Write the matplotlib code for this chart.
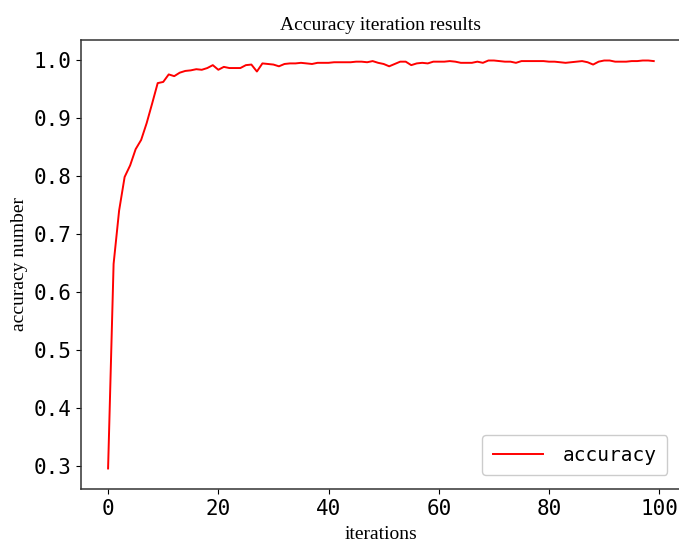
import matplotlib
matplotlib.use("Agg")
import matplotlib.pyplot as plt
import numpy as np

# accuracy per iteration
iterations = np.arange(100)
accuracy = [
    0.295, 0.648, 0.740, 0.798, 0.818, 0.846, 0.862, 0.891, 0.925, 0.960,
    0.962, 0.975, 0.972, 0.978, 0.981, 0.982, 0.984, 0.983, 0.986, 0.991,
    0.983, 0.988, 0.986, 0.986, 0.986, 0.991, 0.992, 0.980, 0.994, 0.993,
    0.992, 0.989, 0.993, 0.994, 0.994, 0.995, 0.994, 0.993, 0.995, 0.995,
    0.995, 0.996, 0.996, 0.996, 0.996, 0.997, 0.997, 0.996, 0.998, 0.995,
    0.993, 0.989, 0.993, 0.997, 0.997, 0.991, 0.994, 0.995, 0.994, 0.997,
    0.997, 0.997, 0.998, 0.997, 0.995, 0.995, 0.995, 0.997, 0.995, 0.999,
    0.999, 0.998, 0.997, 0.997, 0.995, 0.998, 0.998, 0.998, 0.998, 0.998,
    0.997, 0.997, 0.996, 0.995, 0.996, 0.997, 0.998, 0.996, 0.992, 0.997,
    0.999, 0.999, 0.997, 0.997, 0.997, 0.998, 0.998, 0.999, 0.999, 0.998,
]
x_ticks = [0, 20, 40, 60, 80, 100]
y_ticks = [0.3, 0.4, 0.5, 0.6, 0.7, 0.8, 0.9, 1.0]

serif = "Liberation Serif"
mono = "DejaVu Sans Mono"

fig = plt.figure(figsize=(6.79, 5.42), dpi=100)
ax = fig.add_axes([0.119, 0.098, 0.884, 0.828])

ax.plot(iterations, accuracy, color="red", linewidth=1.4, label="accuracy")

ax.set_xticks(x_ticks)
ax.set_yticks(y_ticks)
ax.set_xticklabels([str(t) for t in x_ticks], fontfamily=mono, fontsize=15)
ax.set_yticklabels(["%.1f" % t for t in y_ticks], fontfamily=mono, fontsize=15)

ax.set_title("Accuracy iteration results", fontfamily=serif, fontsize=14, pad=7)
ax.set_xlabel("iterations", fontfamily=serif, fontsize=14, labelpad=5)
ax.set_ylabel("accuracy number", fontfamily=serif, fontsize=14, labelpad=4)

for s in ax.spines.values():
    s.set_color("#333333")
    s.set_linewidth(1.1)

leg = ax.legend(loc="lower right", prop={"family": mono, "size": 14},
                handlelength=2.6, handletextpad=1.0, borderpad=0.55,
                borderaxespad=0.7, fancybox=True, framealpha=1)
leg.get_frame().set_edgecolor("#cccccc")

fig.savefig("out.png", dpi=100)
